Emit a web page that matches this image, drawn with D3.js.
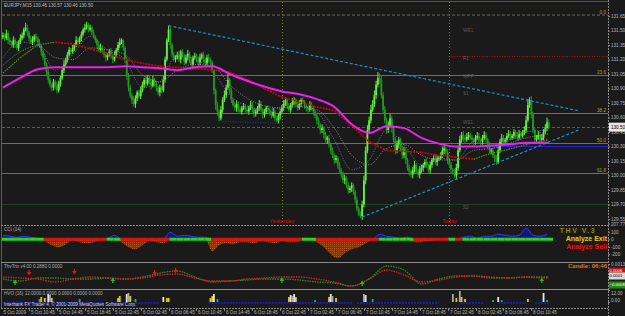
<!DOCTYPE html>
<html><head><meta charset="utf-8">
<script src="https://cdn.jsdelivr.net/npm/d3@7/dist/d3.min.js"></script>
<style>
html,body{margin:0;padding:0;background:#1a1a1a;overflow:hidden;}
svg{display:block;}
text{font-family:"Liberation Sans",Arial,sans-serif;}
</style></head><body>
<svg id="c" width="625" height="316"></svg>
<script>
// ---------- DATA ----------
const symbolTitle = "EURJPY,M15  130.46 130.57 130.46 130.50";
const firstOpen = 131.43;
const closes = [
131.45,131.42,131.47,131.40,131.38,131.35,131.40,131.36,131.32,131.38,
131.42,131.45,131.51,131.53,131.48,131.42,131.38,131.40,131.44,131.42,
131.38,131.34,131.28,131.22,131.15,131.07,130.99,130.94,130.91,130.97,
130.93,130.88,130.95,131.01,131.09,131.15,131.20,131.25,131.30,131.28,
131.32,131.35,131.40,131.38,131.42,131.46,131.51,131.53,131.56,131.51,
131.53,131.48,131.44,131.40,131.35,131.30,131.32,131.28,131.25,131.22,
131.25,131.28,131.24,131.20,131.25,131.30,131.35,131.38,131.40,131.32,
131.20,131.04,130.91,130.83,130.78,130.74,130.80,130.86,130.82,130.88,
130.94,130.99,130.95,131.01,130.97,130.93,130.99,130.95,130.91,130.86,
130.91,130.88,130.99,131.20,131.40,131.51,131.35,131.25,131.20,131.22,
131.25,131.20,131.28,131.24,131.17,131.22,131.26,131.20,131.15,131.22,
131.24,131.20,131.17,131.22,131.25,131.20,131.16,131.22,131.20,131.17,
131.09,130.88,130.73,130.66,130.59,130.68,130.78,130.83,130.91,130.99,
130.88,130.78,130.73,130.70,130.74,130.68,130.66,130.70,130.72,130.68,
130.66,130.70,130.73,130.68,130.64,130.66,130.70,130.74,130.68,130.63,
130.66,130.70,130.68,130.64,130.62,130.66,130.59,130.57,130.62,130.66,
130.70,130.74,130.78,130.72,130.68,130.73,130.76,130.78,130.74,130.70,
130.74,130.78,130.76,130.72,130.70,130.68,130.73,130.70,130.66,130.62,
130.57,130.52,130.47,130.49,130.42,130.37,130.39,130.32,130.26,130.21,
130.16,130.18,130.11,130.06,130.01,129.95,129.97,129.90,129.85,129.87,
129.90,129.83,129.75,129.66,129.60,129.58,129.70,129.95,130.26,130.47,
130.57,130.68,130.74,130.83,130.94,131.01,130.99,130.83,130.68,130.57,
130.47,130.52,130.59,130.49,130.37,130.26,130.32,130.37,130.28,130.21,
130.26,130.16,130.08,130.04,130.01,130.06,130.11,130.04,130.01,130.06,
130.08,130.11,130.14,130.10,130.06,130.11,130.16,130.18,130.14,130.18,
130.18,130.21,130.26,130.28,130.24,130.16,130.11,130.06,130.04,130.00,
130.08,130.26,130.37,130.42,130.39,130.37,130.40,130.42,130.39,130.37,
130.35,130.39,130.41,130.37,130.35,130.39,130.42,130.37,130.32,130.26,
130.26,130.21,130.18,130.14,130.26,130.35,130.39,130.35,130.37,130.41,
130.43,130.39,130.41,130.45,130.42,130.39,130.43,130.41,130.45,130.47,
130.57,130.73,130.78,130.63,130.47,130.37,130.39,130.42,130.37,130.39,
130.45,130.49,130.55,130.50];
// upper / lower shadows in pips (0.01)
const wickUp = [
3,2,4,2,3,1,4,2,3,2,4,3,2,5,3,2,3,4,2,3,
2,3,1,2,4,2,3,2,1,3,2,4,3,2,3,4,2,3,3,2,
3,2,4,3,2,3,2,4,3,2,3,2,3,1,2,3,4,2,3,2,
2,3,4,2,3,2,3,4,2,1,2,3,2,3,2,4,3,2,3,4,
3,2,4,3,2,3,4,2,3,2,3,2,4,3,2,4,3,2,3,2,
3,4,2,3,2,3,4,2,3,2,3,2,3,4,2,3,2,3,4,2,
2,1,2,3,2,4,3,5,3,6,2,3,2,3,4,2,3,2,3,2,
3,2,4,3,2,3,2,4,3,2,3,2,3,2,3,4,2,3,2,3,
3,4,3,2,3,2,4,3,2,3,4,2,3,2,3,2,4,3,2,2,
2,3,2,4,2,3,2,3,2,3,2,3,2,3,2,3,4,2,3,2,
3,2,2,3,2,3,4,5,4,5,4,5,4,5,4,6,5,4,3,4,
3,4,5,3,2,3,4,3,2,3,4,3,2,3,2,3,4,2,3,4,
3,2,3,4,2,3,2,3,4,3,2,3,4,3,2,3,2,3,2,3,
4,5,4,3,4,3,4,3,2,3,2,3,4,3,2,3,4,3,2,3,
2,3,2,3,4,3,4,3,2,3,4,3,2,3,2,3,4,3,2,4,
5,6,3,4,3,2,3,4,3,4,3,4,5,3];
const wickDn = [
2,3,2,4,3,2,3,4,2,3,2,2,3,2,4,3,2,3,2,3,
3,2,4,3,2,3,4,3,4,3,4,3,2,3,2,3,2,3,2,3,
2,3,2,3,2,3,2,3,2,3,2,3,2,3,4,2,3,2,3,4,
3,2,3,4,2,3,2,3,2,3,4,5,4,3,4,3,4,3,2,3,
2,3,4,2,3,4,2,3,4,3,4,3,2,3,2,2,4,3,2,3,
2,3,4,2,3,2,3,4,2,3,2,3,4,3,2,3,4,2,3,2,
3,4,5,4,3,2,3,2,3,2,4,3,2,3,4,3,2,3,2,3,
2,3,2,3,4,3,2,3,2,4,3,2,3,2,3,2,3,2,3,4,
2,3,2,3,2,3,2,3,2,3,2,3,2,3,4,3,2,3,4,3,
4,3,4,3,4,3,4,3,4,3,4,3,4,3,4,3,4,3,4,3,
4,3,4,3,2,2,4,3,4,3,2,3,2,3,4,3,4,3,4,3,
4,3,2,4,3,4,3,4,3,4,3,4,3,4,3,4,3,2,3,4,
3,4,3,2,3,4,3,2,3,4,3,2,3,4,3,4,3,4,3,3,
4,3,2,3,4,3,2,3,2,3,4,3,2,3,4,3,2,3,4,3,
4,3,4,3,2,3,4,3,2,3,2,3,2,3,4,3,2,3,2,3,
3,2,3,4,3,2,3,2,3,2,3,2,3,2];

// moving averages sampled at these bars
const maBars = [0,10,20,30,40,50,60,70,80,90,100,110,120,130,140,150,160,170,180,190,200,210,220,230,240,250,260,270,280,290,300,310,313];
const maSlow = [130.91,131.01,131.10,131.12,131.12,131.12,131.12,131.13,131.12,131.11,131.09,131.12,131.13,131.05,130.98,130.92,130.87,130.84,130.79,130.71,130.53,130.44,130.51,130.49,130.39,130.33,130.30,130.30,130.31,130.32,130.34,130.34,130.34];
const maTrend = [131.06,131.22,131.35,131.38,131.36,131.31,131.26,131.20,131.16,131.13,131.12,131.11,131.09,131.07,130.99,130.90,130.81,130.76,130.71,130.67,130.52,130.35,130.26,130.25,130.24,130.21,130.19,130.17,130.23,130.27,130.32,130.36,130.37];
const maFast = [131.22,131.38,131.35,131.09,131.25,131.44,131.30,131.20,130.91,130.97,131.25,131.20,131.09,130.83,130.72,130.68,130.70,130.72,130.66,130.37,130.06,130.16,130.47,130.32,130.11,130.18,130.16,130.35,130.28,130.37,130.45,130.47,130.49];
const maMid = [131.14,131.28,131.34,131.22,131.20,131.32,131.30,131.25,131.04,130.97,131.09,131.15,131.14,130.94,130.80,130.72,130.70,130.71,130.68,130.49,130.21,130.11,130.28,130.32,130.21,130.16,130.16,130.26,130.28,130.33,130.39,130.42,130.43];

const priceTicks = [131.65,131.50,131.35,131.20,131.05,130.90,130.75,130.60,130.45,130.30,130.15,130.00,129.85,129.70,129.55];
const bidPrice = 130.50;
const fibNames = ["0.0","23.6","38.2","50.0","61.8"];
const fibPrices = [131.66,131.04,130.65,130.34,130.03];
const dayHiLevel = 131.24;   // red dotted
const dayOpenLevel = 130.30; // blue
const lowZoneLevel = 129.71; // dark green
const prevLowLevel = 130.56; const prevLowBars = [126,158];
const pivotNames = ["WR1:","R1","WPP:","S1","WS1","S2"];
const pivotPrices = [131.50,131.21,131.03,130.85,130.55,129.67];
const yesterdayBar = 160, todayBar = 256;
const trendDown = [[95,131.55],[330,130.67]];
const trendUp = [[206,129.57],[330,130.47]];

const dateLabels = ["5 Oct 2009","5 Oct 10:45","5 Oct 14:45","5 Oct 18:45","5 Oct 22:45","6 Oct 02:45","6 Oct 06:45","6 Oct 10:45","6 Oct 14:45","6 Oct 18:45","6 Oct 22:45","7 Oct 02:45","7 Oct 06:45","7 Oct 10:45","7 Oct 14:45","7 Oct 18:45","7 Oct 22:45","8 Oct 02:45","8 Oct 06:45","8 Oct 10:45"];
const dateBars = [0,15,31,47,63,79,95,111,127,143,159,175,191,207,223,239,255,271,287,303];

// CCI every 4 bars
const cciStep = 4;
const cci = [52,40,27,40,27,13,-27,-80,-107,-67,-13,-40,-53,-40,-13,13,53,-40,-107,-133,-80,-27,-40,-53,93,40,53,40,27,27,-160,-80,-53,-67,-40,-40,-53,-27,-40,-53,-27,-40,-40,13,13,-40,-107,-200,-253,-187,-133,-107,-53,-13,67,40,27,13,27,-40,-40,-27,-13,0,13,-13,27,40,13,40,40,67,53,40,53,147,53,40,67];
const cciTicks = [207.77,100,0,-100,-200];

// ThvTrix (sampled at maBars)
const trixRed = [0,-0.0001,-0.0002,-0.0005,-0.0002,0,-0.0001,-0.0002,-0.0001,0.0002,0.0003,-0.0001,-0.0004,-0.0004,-0.0002,-0.0001,0,0,-0.0002,-0.0005,-0.0009,-0.0002,0.0007,0.0002,-0.0005,-0.0003,0,0.0001,0,-0.0001,0,-0.0001,-0.0001];
const trixGreen = [-0.0002,-0.0004,-0.0001,-0.0001,-0.0002,-0.0002,-0.0001,-0.0002,0,0.0004,0.0006,0,-0.0005,-0.0004,-0.0003,-0.0002,-0.0002,-0.0003,-0.0005,-0.0006,-0.0009,-0.0002,0.0011,0.0007,-0.0007,-0.0002,0.0001,0.0001,-0.0001,-0.0001,0,0,0];
const sellArrows = [[15,0.0004],[41,0.0005],[87,0.0004],[99,0.0006]];
const buyArrows = [[7,-0.0005],[63,-0.0003],[160,-0.0003],[206,-0.0006],[309,-0.0003]];
const trixTicks = [0.0013];
const trixMarks = [0.0006,0.0001,-0.0008];   // coloured value boxes: signal, zero, base

// HVO
const hvoBars = [21,22,24,26,27,28,44,66,67,71,72,73,76,92,94,95,119,120,121,123,164,165,166,167,168,179,187,188,189,191,207,208,212,258,260,262,263,265,281,284,286,301,310,312];
const hvoVals = [3,5,4,8,7,4,3,4,6,8,9,6,3,5,4,4,4,6,8,3,5,7,6,8,5,2,5,8,6,4,8,7,3,8,4,11,5,3,2,5,2,3,9,2];
const hvoKind = ["g","y","y","w","s","y","g","y","y","w","s","y","g","w","y","y","y","y","w","g","y","w","s","w","y","g","y","w","s","y","s","w","g","s","y","s","y","y","g","w","g","y","w","g"];
const hvoRuns = [[0,58],[62,70],[76,90],[118,200],[203,250],[262,276],[284,300],[305,313]];
const hvoTicks = [12,0];

// ---------- DRAW ----------
const svg = d3.select("#c");
const BG = "#1a1a1a";
svg.append("rect").attr("width",625).attr("height",316).attr("fill",BG);
const defs = svg.append("defs");
defs.append("clipPath").attr("id","mainClip").append("rect").attr("x",2).attr("y",2).attr("width",606).attr("height",222);
const pat = defs.append("pattern").attr("id","dots").attr("width",2).attr("height",2).attr("patternUnits","userSpaceOnUse");
pat.append("rect").attr("width",2).attr("height",2).attr("fill","#6a3812");
pat.append("rect").attr("width",1).attr("height",1).attr("fill","#b05a24");

const x = d3.scaleLinear().domain([0,313]).range([2.9, 2.9+313*1.744]);
const yP = d3.scaleLinear().domain([131.65,129.55]).range([16,219]);
const FS = 4.6;

// frame
svg.append("line").attr("x1",1.5).attr("x2",1.5).attr("y1",0).attr("y2",308).attr("stroke","#5a5a70");
svg.append("line").attr("x1",1).attr("x2",608).attr("y1",1.5).attr("y2",1.5).attr("stroke","#505088");

const main = svg.append("g").attr("clip-path","url(#mainClip)");

// levels
main.append("line").attr("x1",2).attr("x2",608).attr("y1",yP(fibPrices[0])).attr("y2",yP(fibPrices[0])).attr("stroke","#6c6c58").attr("stroke-dasharray","3,2");
fibPrices.slice(1).forEach(p=>{
  main.append("line").attr("x1",2).attr("x2",608).attr("y1",Math.round(yP(p))+0.5).attr("y2",Math.round(yP(p))+0.5).attr("stroke","#77771f");
});
main.append("line").attr("x1",2).attr("x2",608).attr("y1",Math.round(yP(bidPrice))+0.5).attr("y2",Math.round(yP(bidPrice))+0.5).attr("stroke","#55558c").attr("stroke-dasharray","3,2");
main.append("line").attr("x1",x(todayBar)).attr("x2",608).attr("y1",Math.round(yP(dayHiLevel))+0.5).attr("y2",Math.round(yP(dayHiLevel))+0.5).attr("stroke","#c01010").attr("stroke-dasharray","1,1.5");
main.append("line").attr("x1",x(todayBar)).attr("x2",608).attr("y1",Math.round(yP(dayOpenLevel))+0.5).attr("y2",Math.round(yP(dayOpenLevel))+0.5).attr("stroke","#2020d8");
main.append("line").attr("x1",2).attr("x2",608).attr("y1",Math.round(yP(lowZoneLevel))+0.5).attr("y2",Math.round(yP(lowZoneLevel))+0.5).attr("stroke","#1d421d");
main.append("line").attr("x1",x(prevLowBars[0])).attr("x2",x(prevLowBars[1])).attr("y1",yP(prevLowLevel)).attr("y2",yP(prevLowLevel)+2).attr("stroke","#2a3ab0").attr("stroke-dasharray","1,1.5");

// day separators
[yesterdayBar,todayBar].forEach(b=>{
  main.append("line").attr("x1",Math.round(x(b))+0.5).attr("x2",Math.round(x(b))+0.5).attr("y1",2).attr("y2",224).attr("stroke","#7a7a2a").attr("stroke-dasharray","1,2");
});

// pivot labels
pivotNames.forEach((n,i)=>{
  main.append("text").attr("x",463).attr("y",yP(pivotPrices[i])).attr("dy","0.35em").attr("font-size",FS).attr("fill","#5e5e5e").text(n);
});

// candles
const bull="#62f43a", bear="#1f9c1f";
const cg = main.append("g");
closes.forEach((c,i)=>{
  const o = i===0?firstOpen:closes[i-1];
  const hi = Math.max(o,c)+wickUp[i]/100, lo = Math.min(o,c)-wickDn[i]/100;
  const col = c>=o?bull:bear;
  const cx = x(i);
  cg.append("line").attr("x1",cx).attr("x2",cx).attr("y1",yP(hi)).attr("y2",yP(lo)).attr("stroke",col).attr("stroke-width",1);
  const top=yP(Math.max(o,c)), bot=yP(Math.min(o,c));
  cg.append("rect").attr("x",cx-0.9).attr("width",1.8).attr("y",top).attr("height",Math.max(1,bot-top)).attr("fill",col);
});

// MAs
const lineGen = (arr)=>d3.line().x((d,i)=>x(maBars[i])).y(d=>yP(d)).curve(d3.curveMonotoneX)(arr);
main.append("path").attr("d",lineGen(maMid)).attr("fill","none").attr("stroke","#9a9a9a").attr("stroke-width",0.9).attr("stroke-dasharray","1,1.5");
main.append("path").attr("d",lineGen(maFast)).attr("fill","none").attr("stroke","#7272cc").attr("stroke-width",0.9).attr("stroke-dasharray","1,1.5");
for(let k=0;k<maTrend.length-1;k++){
  const up = maTrend[k+1]>maTrend[k];
  main.append("path").attr("d",d3.line().x(d=>x(d[0])).y(d=>yP(d[1]))([[maBars[k],maTrend[k]],[maBars[k+1],maTrend[k+1]]]))
    .attr("fill","none").attr("stroke",up?"#4f8a1c":"#c00a0a").attr("stroke-width",up?1.3:1.8).attr("stroke-dasharray",up?"1.5,1":"2,1");
}
main.append("path").attr("d",lineGen(maSlow)).attr("fill","none").attr("stroke","#f01ef0").attr("stroke-width",2);

// trendlines
[trendDown,trendUp].forEach(t=>{
  main.append("line").attr("x1",x(t[0][0])).attr("y1",yP(t[0][1])).attr("x2",x(t[1][0])).attr("y2",yP(t[1][1]))
    .attr("stroke","#1c8fd0").attr("stroke-width",1.2).attr("stroke-dasharray","3,2");
});

// fib labels
fibNames.forEach((n,i)=>{
  main.append("text").attr("x",606).attr("y",yP(fibPrices[i])-1).attr("text-anchor","end").attr("font-size",FS).attr("fill","#a8a820").text(n);
});
main.append("text").attr("x",x(yesterdayBar)).attr("y",223).attr("text-anchor","middle").attr("font-size",5.6).attr("fill","#d41010").text("Yesterday");
main.append("text").attr("x",x(todayBar)).attr("y",223).attr("text-anchor","middle").attr("font-size",5.6).attr("fill","#d41010").text("Today");

svg.append("text").attr("x",4).attr("y",7).attr("font-size",FS).attr("fill","#c0c0c0").text(symbolTitle);

// right axis
svg.append("line").attr("x1",608.5).attr("x2",608.5).attr("y1",0).attr("y2",316).attr("stroke","#8a8a8a").attr("stroke-dasharray","2,1");
function styleAxis(g){
  g.select(".domain").remove();
  g.selectAll("line").attr("stroke","#8a8a8a");
  g.selectAll("text").attr("font-size",FS).attr("fill","#b8b8b8").attr("font-family","Liberation Sans, Arial").attr("x",3);
}
svg.append("g").attr("transform","translate(608,0)").call(d3.axisRight(yP).tickValues(priceTicks).tickFormat(d3.format(".2f")).tickSize(2)).call(styleAxis);
svg.append("rect").attr("x",609).attr("y",yP(bidPrice)-4.5).attr("width",16).attr("height",9).attr("fill","#e6e6e6");
svg.append("text").attr("x",611).attr("y",yP(bidPrice)).attr("dy","0.35em").attr("font-size",FS).attr("fill","#000").text(d3.format(".2f")(bidPrice));

// panel separators
[[225,"2,1"],[262,null],[289,null],[308,"2,1"]].forEach(([yy,da])=>{
  const l=svg.append("line").attr("x1",1).attr("x2",608).attr("y1",yy+0.5).attr("y2",yy+0.5).attr("stroke","#8a8a8a");
  if(da) l.attr("stroke-dasharray",da);
});

// ---------- CCI panel ----------
const yC = d3.scaleLinear().domain([-290,150]).range([261,228]);
const cciPts = cci.map((v,k)=>[k*cciStep,v]);
const cp = svg.append("g");
cp.append("path").attr("d",d3.area().x(d=>x(d[0])).y0(yC(0)).y1(d=>yC(Math.min(0,d[1]))).curve(d3.curveMonotoneX)(cciPts)).attr("fill","url(#dots)");
cp.append("path").attr("d",d3.area().x(d=>x(d[0])).y0(yC(0)).y1(d=>yC(Math.max(0,d[1]))).curve(d3.curveMonotoneX)(cciPts)).attr("fill","#16167a");
cp.append("path").attr("d",d3.line().x(d=>x(d[0])).y(d=>yC(Math.max(0,d[1]))).curve(d3.curveMonotoneX)(cciPts)).attr("fill","none").attr("stroke","#3a3aff").attr("stroke-width",1);
cciPts.forEach((d,k)=>{
  cp.append("rect").attr("x",x(d[0])-0.9).attr("y",yC(0)-1.5).attr("width",cciStep*1.744).attr("height",3).attr("fill",d[1]>0?"#22d822":"#e01010");
});
svg.append("text").attr("x",4).attr("y",231).attr("font-size",FS).attr("fill","#b0b0b0").text("CCI  (14)");
svg.append("g").attr("transform","translate(608,0)").call(d3.axisRight(yC).tickValues(cciTicks).tickFormat(d=>Number.isInteger(d)?String(d):d3.format(".2f")(d)).tickSize(2)).call(styleAxis);
svg.append("text").attr("x",578).attr("y",233).attr("text-anchor","middle").attr("font-size",7).attr("font-weight","bold").attr("letter-spacing",1.5).attr("fill","#8c8c10").text("THV V.3");
svg.append("text").attr("x",607).attr("y",240.5).attr("text-anchor","end").attr("font-size",7).attr("font-weight","bold").attr("fill","#f0c800").text("Analyze Exit");
svg.append("text").attr("x",607).attr("y",248.5).attr("text-anchor","end").attr("font-size",7).attr("font-weight","bold").attr("fill","#ee1010").text("Analyze Sell");

// ---------- ThvTrix panel ----------
const yT = d3.scaleLinear().domain([-0.0011,0.0014]).range([288,263]);
const tl = (arr)=>d3.line().x((d,i)=>x(maBars[i])).y(d=>yT(d)).curve(d3.curveMonotoneX)(arr);
svg.append("path").attr("d",tl(trixGreen)).attr("fill","none").attr("stroke","#2b8c2b").attr("stroke-width",1.3).attr("stroke-dasharray","1.5,1");
svg.append("path").attr("d",tl(trixRed)).attr("fill","none").attr("stroke","#e81c1c").attr("stroke-width",1.3).attr("stroke-dasharray","1.5,1");
sellArrows.forEach(([b,v])=>{
  const cx=x(b), cy=yT(v);
  svg.append("path").attr("d",`M${cx-2.2},${cy-1} L${cx+2.2},${cy-1} L${cx},${cy+2.5} Z M${cx-0.6},${cy-3} h1.2 v2 h-1.2 Z`).attr("fill","#e01818");
});
buyArrows.forEach(([b,v])=>{
  const cx=x(b), cy=yT(v);
  svg.append("path").attr("d",`M${cx-2.2},${cy+1} L${cx+2.2},${cy+1} L${cx},${cy-2.5} Z M${cx-0.6},${cy+1} h1.2 v2 h-1.2 Z`).attr("fill","#22c022");
});
svg.append("text").attr("x",4).attr("y",268).attr("font-size",FS).attr("fill","#b0b0b0").text("ThvTrix v4.00 0.2880 0.0000");
svg.append("text").attr("x",607).attr("y",268).attr("text-anchor","end").attr("font-size",6).attr("font-weight","bold").attr("fill","#e07818").text("Candle: 06:46");
svg.append("g").attr("transform","translate(608,0)").call(d3.axisRight(yT).tickValues(trixTicks).tickFormat(d3.format(".4f")).tickSize(2)).call(styleAxis);
const markFill = ["#c01010","#d8d8d8","#1f8a1f"], markText = ["#fff","#000","#fff"];
trixMarks.forEach((v,i)=>{
  svg.append("rect").attr("x",609).attr("y",yT(v)-3.5).attr("width",16).attr("height",7).attr("fill",markFill[i]);
  svg.append("text").attr("x",609.5).attr("y",yT(v)).attr("dy","0.35em").attr("font-size",4.2).attr("fill",markText[i]).text(d3.format(".4f")(v));
});

// ---------- HVO panel ----------
const yH = d3.scaleLinear().domain([0,12]).range([302,290]);
const hvoColor = {w:"#e8e8e8", s:"#a8a8a8", y:"#e0d000", g:"#22c022"};
hvoRuns.forEach(([a,b])=>{
  svg.append("line").attr("x1",x(a)).attr("x2",x(b)).attr("y1",303).attr("y2",303).attr("stroke","#1c1cf0").attr("stroke-width",1.6).attr("stroke-dasharray","2,1");
});
hvoBars.forEach((b,i)=>{
  svg.append("rect").attr("x",x(b)-0.9).attr("width",1.8).attr("y",yH(hvoVals[i])).attr("height",yH(0)-yH(hvoVals[i])).attr("fill",hvoColor[hvoKind[i]]);
});
svg.append("text").attr("x",4).attr("y",295).attr("font-size",FS).attr("fill","#b0b0b0").text("HVO (16)  12.0000  0.0000  0.0000  0.0000  0.0000");
svg.append("text").attr("x",4).attr("y",305.5).attr("font-size",FS).attr("fill","#d0d0ff").text("Interbank FX Trader 4, © 2001-2009 MetaQuotes Software Corp.");
svg.append("g").attr("transform","translate(608,0)").call(d3.axisRight(yH).tickValues(hvoTicks).tickFormat(d3.format(".2f")).tickSize(2)).call(styleAxis)
  .selectAll("text").attr("dy",(d)=>d===12?"0.9em":"-0.1em");

// ---------- date axis ----------
dateBars.forEach((b,i)=>{
  const xx = i===0?2:Math.round(x(b))+0.5;
  if(i>0) svg.append("line").attr("x1",xx).attr("x2",xx).attr("y1",308).attr("y2",311).attr("stroke","#8a8a8a");
  svg.append("text").attr("x",xx+1.5).attr("y",314).attr("font-size",FS).attr("fill","#b8b8b8").text(dateLabels[i]);
});
</script>
</body></html>
